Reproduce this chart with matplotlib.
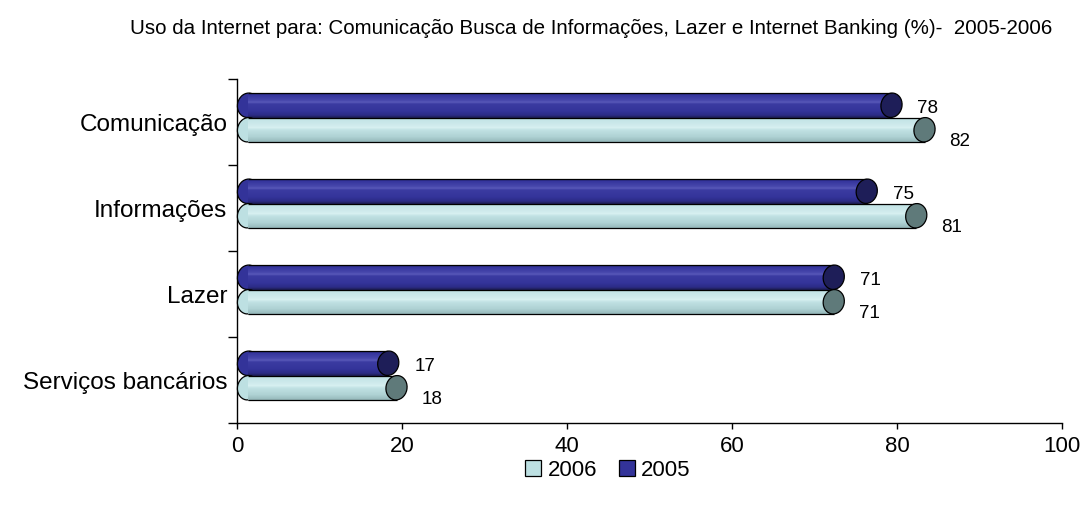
import numpy as np
import matplotlib
matplotlib.use("Agg")
import matplotlib.pyplot as plt
from matplotlib.patches import Rectangle, Ellipse, Patch
from matplotlib.transforms import ScaledTranslation
from matplotlib.colors import to_rgb

plt.rcParams['font.family'] = ['Liberation Sans', 'DejaVu Sans']

# ---- data ----
title = "Uso da Internet para: Comunicação Busca de Informações, Lazer e Internet Banking (%)-  2005-2006"
categories = ["Comunicação", "Informações", "Lazer", "Serviços bancários"]
series_names = ["2006", "2005"]
values_2006 = [82, 81, 71, 18]
values_2005 = [78, 75, 71, 17]
x_ticks = [0, 20, 40, 60, 80, 100]

# ---- style ----
W, H, DPI = 10.87, 5.06, 100
fig = plt.figure(figsize=(W, H), dpi=DPI)
ax_l, ax_r, ax_t, ax_b = 237 / 1087, 1062 / 1087, 1 - 80 / 506, 1 - 424 / 506
ax = fig.add_axes([ax_l, ax_b, ax_r - ax_l, ax_t - ax_b])

n = len(categories)
ypos = np.arange(n)
ax.set_xlim(0, 100)
ax.set_ylim(n - 0.5, -0.5)

bar_h = 0.285
cat_in = (ax_t - ax_b) * H / n
bar_h_in = bar_h * cat_in
cap_w_in = 0.21
off_x, off_y = 0.11, 0.045

body_tr = ax.transData + ScaledTranslation(off_x, off_y, fig.dpi_scale_trans)

dark_stops = [(0.0, "#26266e"), (0.08, "#34349c"), (0.30, "#4646ab"), (0.38, "#5858b8"),
              (0.46, "#3a3aa0"), (0.75, "#333399"), (0.92, "#2b2b86"), (1.0, "#20205e")]
light_stops = [(0.0, "#a8cdd0"), (0.08, "#c4e4e6"), (0.30, "#cfeaec"), (0.40, "#d6eff0"),
               (0.50, "#c0e1e3"), (0.78, "#aed1d3"), (1.0, "#94b6b8")]
dark_cap = "#1e1e58"
light_cap = "#5f7a7a"
dark_mid = "#333399"
light_mid = "#bde0e2"


def interp(stops, t):
    for (t0, c0), (t1, c1) in zip(stops[:-1], stops[1:]):
        if t0 <= t <= t1:
            a = (t - t0) / (t1 - t0) if t1 > t0 else 0
            c0, c1 = np.array(to_rgb(c0)), np.array(to_rgb(c1))
            return tuple(c0 + (c1 - c0) * a)
    return to_rgb(stops[-1][1])


def draw_cyl(value, yc, stops, mid, capc, z):
    top = yc - bar_h / 2
    tr_left = fig.dpi_scale_trans + ScaledTranslation(0, yc, ax.transData) + \
        ScaledTranslation(off_x, off_y, fig.dpi_scale_trans)
    ax.add_patch(Ellipse((0, 0), cap_w_in, bar_h_in, angle=-12, transform=tr_left,
                         facecolor=mid, edgecolor="black", lw=0.9, zorder=z, clip_on=False))
    N = 24
    for i in range(N):
        c = interp(stops, (i + 0.5) / N)
        ax.add_patch(Rectangle((0, top + i * bar_h / N), value, bar_h / N * 1.05,
                               transform=body_tr, facecolor=c, edgecolor="none",
                               lw=0, zorder=z + 0.1, clip_on=False))
    ax.plot([0, value], [top, top], color="black", lw=0.9, transform=body_tr,
            zorder=z + 0.2, clip_on=False, solid_capstyle="butt")
    ax.plot([0, value], [top + bar_h, top + bar_h], color="black", lw=0.9,
            transform=body_tr, zorder=z + 0.2, clip_on=False, solid_capstyle="butt")
    tr_right = fig.dpi_scale_trans + ScaledTranslation(value, yc, ax.transData) + \
        ScaledTranslation(off_x, off_y, fig.dpi_scale_trans)
    ax.add_patch(Ellipse((0, 0), cap_w_in, bar_h_in, angle=-12, transform=tr_right,
                         facecolor=capc, edgecolor="black", lw=0.9, zorder=z + 0.3,
                         clip_on=False))


lab_fs = 13.5
for i in range(n):
    yc_d = ypos[i] - bar_h / 2
    yc_l = ypos[i] + bar_h / 2
    draw_cyl(values_2005[i], yc_d, dark_stops, dark_mid, dark_cap, 3)
    draw_cyl(values_2006[i], yc_l, light_stops, light_mid, light_cap, 5)
    ax.text(values_2005[i], yc_d, str(values_2005[i]), ha="left", va="center",
            fontsize=lab_fs,
            transform=ax.transData + ScaledTranslation(0.37, 0.02, fig.dpi_scale_trans))
    ax.text(values_2006[i], yc_l, str(values_2006[i]), ha="left", va="center",
            fontsize=lab_fs,
            transform=ax.transData + ScaledTranslation(0.36, -0.06, fig.dpi_scale_trans))

# axes styling
for s in ["top", "right"]:
    ax.spines[s].set_visible(False)
for s in ["left", "bottom"]:
    ax.spines[s].set_color("black")
    ax.spines[s].set_linewidth(1.0)
ax.set_xticks(x_ticks)
ax.set_xticklabels([str(t) for t in x_ticks])
ax.tick_params(axis="x", direction="out", length=4, width=1.0, pad=5, labelsize=16)
ax.set_yticks(ypos)
ax.set_yticklabels(categories)
ax.tick_params(axis="y", which="major", length=0, pad=7, labelsize=17.5)
ax.set_yticks(np.arange(-0.5, n, 1.0), minor=True)
ax.tick_params(axis="y", which="minor", direction="out", length=6.5, width=1.0)

fig.text(591 / 1087, 1 - 29 / 506, title, ha="center", va="center", fontsize=14.8)

handles = [Patch(facecolor="#bde0e2", edgecolor="black", lw=0.9),
           Patch(facecolor="#333399", edgecolor="black", lw=0.9)]
fig.legend(handles, series_names, loc="center", bbox_to_anchor=(608 / 1087, 1 - 471 / 506),
           ncol=2, frameon=False, fontsize=16, handlelength=0.7, handleheight=0.7,
           handletextpad=0.3, columnspacing=1.0, borderaxespad=0)

fig.savefig("out.png", dpi=DPI)
